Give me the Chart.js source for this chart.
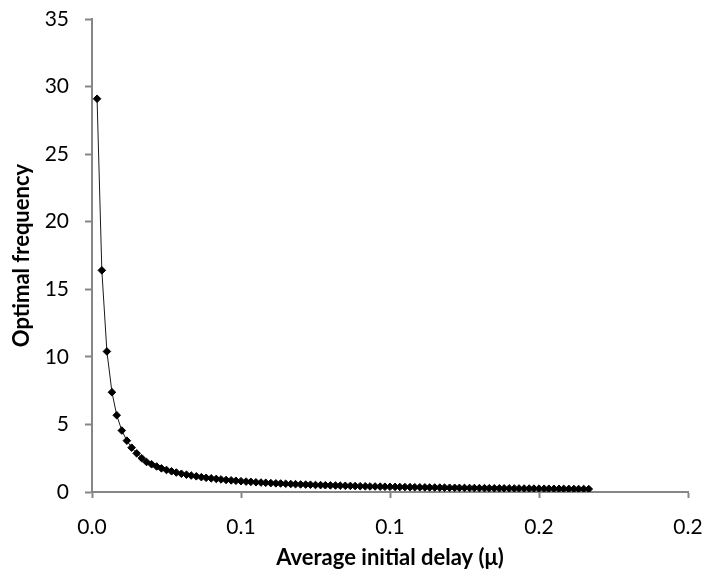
<!DOCTYPE html>
<html>
<head>
<meta charset="utf-8">
<script src="https://cdn.jsdelivr.net/npm/chart.js@4/dist/chart.umd.min.js"></script>
<style>
  html, body { margin: 0; padding: 0; background: #fff; }
  #wrap { width: 705px; height: 578px; }
</style>
</head>
<body>
<div id="wrap"><canvas id="chart1" width="705" height="578"></canvas></div>
<script>
var chart1Element = document.getElementById('chart1').getContext('2d')

// average initial delay (mu)
const delays = [
  0.0017, 0.0033, 0.0050, 0.0067, 0.0083, 0.0100, 0.0117, 0.0133, 0.0150, 0.0167,
  0.0183, 0.0200, 0.0217, 0.0233, 0.0250, 0.0267, 0.0283, 0.0300, 0.0317, 0.0333,
  0.0350, 0.0367, 0.0383, 0.0400, 0.0417, 0.0433, 0.0450, 0.0467, 0.0483, 0.0500,
  0.0517, 0.0533, 0.0550, 0.0567, 0.0583, 0.0600, 0.0617, 0.0633, 0.0650, 0.0667,
  0.0683, 0.0700, 0.0717, 0.0733, 0.0750, 0.0767, 0.0783, 0.0800, 0.0817, 0.0833,
  0.0850, 0.0867, 0.0883, 0.0900, 0.0917, 0.0933, 0.0950, 0.0967, 0.0983, 0.1000,
  0.1017, 0.1033, 0.1050, 0.1067, 0.1083, 0.1100, 0.1117, 0.1133, 0.1150, 0.1167,
  0.1183, 0.1200, 0.1217, 0.1233, 0.1250, 0.1267, 0.1283, 0.1300, 0.1317, 0.1333,
  0.1350, 0.1367, 0.1383, 0.1400, 0.1417, 0.1433, 0.1450, 0.1467, 0.1483, 0.1500,
  0.1517, 0.1533, 0.1550, 0.1567, 0.1583, 0.1600, 0.1617, 0.1633, 0.1650, 0.1667,
]

// optimal frequency
const frequencies = [
  29.1, 16.4, 10.4, 7.38, 5.68, 4.55, 3.80, 3.28, 2.86, 2.50,
  2.22, 2.05, 1.89, 1.75, 1.63, 1.53, 1.44, 1.35, 1.28, 1.22,
  1.16, 1.10, 1.05, 1.01, 0.97, 0.93, 0.89, 0.86, 0.83, 0.80,
  0.77, 0.75, 0.72, 0.70, 0.68, 0.66, 0.64, 0.63, 0.61, 0.59,
  0.58, 0.56, 0.55, 0.54, 0.52, 0.51, 0.50, 0.49, 0.48, 0.47,
  0.46, 0.45, 0.44, 0.43, 0.42, 0.41, 0.41, 0.40, 0.39, 0.385,
  0.378, 0.372, 0.365, 0.359, 0.353, 0.347, 0.342, 0.336, 0.331, 0.326,
  0.321, 0.316, 0.311, 0.306, 0.302, 0.298, 0.293, 0.289, 0.285, 0.281,
  0.277, 0.274, 0.270, 0.266, 0.263, 0.260, 0.256, 0.253, 0.250, 0.247,
  0.244, 0.241, 0.238, 0.235, 0.232, 0.229, 0.227, 0.224, 0.222, 0.219,
]

// excel shows one decimal, so 0.05 and 0.15 come out rounded
const xTickLabels = ['0.0', '0.1', '0.1', '0.2', '0.2']
const yTickLabels = ['0', '5', '10', '15', '20', '25', '30', '35']

const axisGray = '#868686'
const fontName = 'Lato, Calibri, Carlito, sans-serif'

const points = delays.map(function (d, i) {
  return { x: d, y: frequencies[i] }
})

const data1 = {
  datasets: [
    {
      label: 'Optimal frequency',
      data: points,
      borderColor: '#1a1a1a',
      borderWidth: 1,
      backgroundColor: '#000',
      pointStyle: 'rectRot',
      pointRadius: 3.8,
      pointBorderWidth: 1,
      pointBorderColor: '#000',
      pointBackgroundColor: '#000',
      tension: 0,
    },
  ],
}

const config1 = {
  type: 'scatter',
  data: data1,
  options: {
    responsive: false,
    animation: false,
    showLine: true,
    layout: { padding: { left: 0, right: 17, top: 19, bottom: 0 } },
    plugins: {
      legend: { display: false },
      tooltip: { enabled: false },
    },
    scales: {
      x: {
        type: 'linear',
        min: 0,
        max: 0.2,
        border: { color: axisGray, width: 2 },
        grid: {
          drawOnChartArea: false,
          drawTicks: true,
          tickLength: 6,
          tickColor: axisGray,
          tickWidth: 2,
        },
        ticks: {
          stepSize: 0.05,
          padding: 17,
          color: '#000',
          font: { family: fontName, size: 21 },
          maxRotation: 0,
          callback: function (value, index) {
            return xTickLabels[index]
          },
        },
        title: {
          display: true,
          text: 'Average initial delay (μ)',
          color: '#000',
          font: { family: fontName, size: 22, weight: 'bold' },
          padding: { top: 0, bottom: 7 },
        },
        afterFit: function (scale) {
          scale.height = 86
          scale.paddingLeft = 0
          scale.paddingRight = 0
        },
      },
      y: {
        type: 'linear',
        min: 0,
        max: 35,
        border: { color: axisGray, width: 2 },
        grid: {
          drawOnChartArea: false,
          drawTicks: true,
          tickLength: 7,
          tickColor: axisGray,
          tickWidth: 2,
        },
        ticks: {
          stepSize: 5,
          padding: 16,
          color: '#000',
          font: { family: fontName, size: 21 },
          callback: function (value, index) {
            return yTickLabels[index]
          },
        },
        title: {
          display: true,
          text: 'Optimal frequency',
          color: '#000',
          font: { family: fontName, size: 22, weight: 'bold' },
          padding: { top: 9, bottom: 0 },
        },
        afterFit: function (scale) {
          scale.width = 92
          scale.paddingTop = 0
          scale.paddingBottom = 0
        },
      },
    },
  },
}

var chart1 = new Chart(chart1Element, config1)
</script>
</body>
</html>
